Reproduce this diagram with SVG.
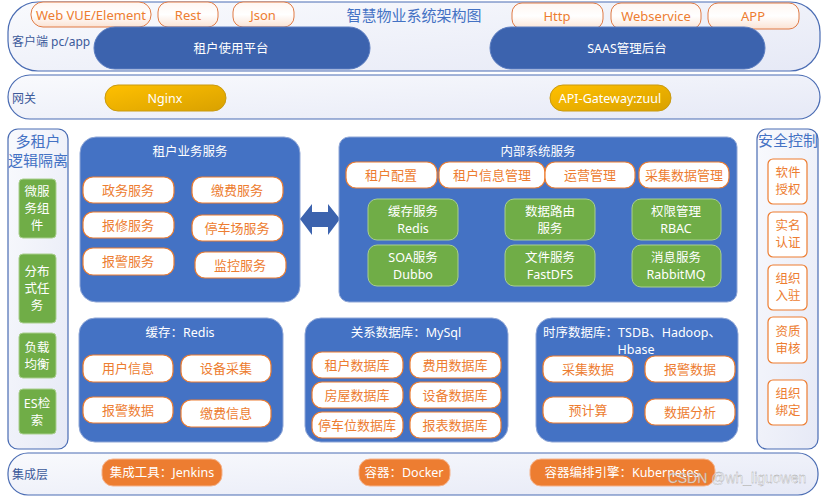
<svg xmlns="http://www.w3.org/2000/svg" width="826" height="496" viewBox="0 0 826 496">
<defs>
<linearGradient id="frameG" x1="0" y1="0" x2="1" y2="1">
<stop offset="0" stop-color="#f9fafd"/><stop offset="1" stop-color="#e6e9f6"/>
</linearGradient>
<linearGradient id="goldG" x1="0" y1="0" x2="1" y2="1">
<stop offset="0" stop-color="#ffc000"/><stop offset="1" stop-color="#d9a100"/>
</linearGradient>
<linearGradient id="topPillG" x1="0" y1="0" x2="0" y2="1">
<stop offset="0" stop-color="#fff6f1"/><stop offset="0.5" stop-color="#ffffff"/><stop offset="1" stop-color="#fbe3d4"/>
</linearGradient>
<style>
text{font-family:"Noto Sans","Noto Sans CJK SC",sans-serif;text-anchor:middle;dominant-baseline:central}
.frame{fill:url(#frameG);stroke:#4a6cb3;stroke-width:1.2}
.blueBox{fill:#4472c4;stroke:#8fa6d6;stroke-width:1}
.bluePill{fill:#3c63ae;stroke:#5a7cc0;stroke-width:1}
.wpill{fill:#ffffff;stroke:#ed7d31;stroke-width:1.2}
.tpill{fill:url(#topPillG);stroke:#e07b45;stroke-width:1}
.green{fill:#70ad47;stroke:#a9cf8e;stroke-width:1}
.gold{fill:url(#goldG);stroke:#c99a10;stroke-width:1}
.opill{fill:#ed7d31;stroke:#f5b28a;stroke-width:1}
.ot{fill:#ed7d31;font-size:13px}
.wt{fill:#ffffff;font-size:12.5px}
.bt{fill:#3c5a9a;font-size:12px;text-anchor:start}
.ht{fill:#4472c4;font-size:15px}
.st{fill:#ed7d31;font-size:12.5px}
</style>
</defs>

<g id="client-layer">
<rect class="frame" x="8" y="2" width="812" height="69" rx="30"/>
<text class="bt" x="12" y="41">客户端 pc/app</text>
<text class="ht" x="414" y="15">智慧物业系统架构图</text>
</g>
<g id="web"><rect class="tpill" x="31" y="2" width="120" height="25" rx="12"/><text class="ot" x="91" y="14.5" font-size="12">Web VUE/Element</text></g>
<g id="rest"><rect class="tpill" x="158" y="2" width="60" height="25" rx="10"/><text class="ot" x="188" y="14.5" font-size="12">Rest</text></g>
<g id="json"><rect class="tpill" x="233" y="2" width="61" height="25" rx="10"/><text class="ot" x="263" y="14.5" font-size="12">Json</text></g>
<g id="http"><rect class="tpill" x="512" y="3" width="91" height="26" rx="10"/><text class="ot" x="557" y="16" font-size="12">Http</text></g>
<g id="webservice"><rect class="tpill" x="611" y="3" width="90" height="26" rx="10"/><text class="ot" x="656" y="16" font-size="12">Webservice</text></g>
<g id="app"><rect class="tpill" x="708" y="3" width="91" height="26" rx="10"/><text class="ot" x="753" y="16" font-size="12">APP</text></g>
<g id="tenant-platform"><rect class="bluePill" x="94" y="27" width="276" height="42" rx="21"/><text class="wt" x="231" y="48">租户使用平台</text></g>
<g id="saas"><rect class="bluePill" x="490" y="27" width="275" height="42" rx="21"/><text class="wt" x="627" y="48">SAAS管理后台</text></g>

<g id="gateway-layer">
<rect class="frame" x="8" y="75" width="812" height="44" rx="22"/>
<text class="bt" x="12" y="98">网关</text>
</g>
<g id="nginx"><rect class="gold" x="105" y="85" width="121" height="26" rx="13"/><text class="wt" x="165" y="98" font-size="12">Nginx</text></g>
<g id="zuul"><rect class="gold" x="550" y="85" width="121" height="26" rx="13"/><text class="wt" x="610" y="98" font-size="12">API-Gateway:zuul</text></g>

<g id="multi-tenant">
<rect class="frame" x="8" y="129" width="60" height="320" rx="10"/>
<text class="ht" x="38" y="141">多租户</text>
<text class="ht" x="38" y="160">逻辑隔离</text>
<rect class="green" x="19" y="179" width="37" height="59" rx="4"/>
<text class="wt" x="37" y="191">微服</text><text class="wt" x="37" y="208">务组</text><text class="wt" x="37" y="225">件</text>
<rect class="green" x="19" y="254" width="37" height="69" rx="4"/>
<text class="wt" x="37" y="271">分布</text><text class="wt" x="37" y="288">式任</text><text class="wt" x="37" y="305">务</text>
<rect class="green" x="19" y="333" width="37" height="45" rx="4"/>
<text class="wt" x="37" y="347">负载</text><text class="wt" x="37" y="364">均衡</text>
<rect class="green" x="19" y="389" width="37" height="45" rx="4"/>
<text class="wt" x="37" y="403">ES检</text><text class="wt" x="37" y="420">索</text>
</g>

<g id="security">
<rect class="frame" x="757" y="129" width="61" height="320" rx="10"/>
<text class="ht" x="788" y="140">安全控制</text>
<rect class="wpill" x="768" y="159" width="39" height="45" rx="5"/>
<text class="st" x="788" y="172.5">软件</text><text class="st" x="788" y="189.5">授权</text>
<rect class="wpill" x="768" y="212" width="39" height="45" rx="5"/>
<text class="st" x="788" y="225.5">实名</text><text class="st" x="788" y="242.5">认证</text>
<rect class="wpill" x="768" y="265" width="39" height="45" rx="5"/>
<text class="st" x="788" y="278.5">组织</text><text class="st" x="788" y="295.5">入驻</text>
<rect class="wpill" x="768" y="317" width="39" height="46" rx="5"/>
<text class="st" x="788" y="331.5">资质</text><text class="st" x="788" y="348.5">审核</text>
<rect class="wpill" x="768" y="380" width="39" height="45" rx="5"/>
<text class="st" x="788" y="393.5">组织</text><text class="st" x="788" y="410.5">绑定</text>
</g>

<g id="tenant-services">
<rect class="blueBox" x="80" y="137" width="220" height="165" rx="16"/>
<text class="wt" x="190" y="151">租户业务服务</text>
<rect class="wpill" x="83" y="177" width="91" height="26" rx="10"/><text class="ot" x="128" y="190">政务服务</text>
<rect class="wpill" x="192" y="177" width="91" height="26" rx="10"/><text class="ot" x="237" y="190">缴费服务</text>
<rect class="wpill" x="83" y="212" width="91" height="26" rx="10"/><text class="ot" x="128" y="225">报修服务</text>
<rect class="wpill" x="192" y="215" width="91" height="26" rx="10"/><text class="ot" x="237" y="228">停车场服务</text>
<rect class="wpill" x="83" y="248" width="91" height="27" rx="10"/><text class="ot" x="128" y="261">报警服务</text>
<rect class="wpill" x="195" y="252" width="91" height="26" rx="10"/><text class="ot" x="240" y="265">监控服务</text>
</g>

<g id="connectors">
<path d="M300,219 L312,204 L312,212 L328,212 L328,204 L340,219 L328,235 L328,227 L312,227 L312,235 Z" fill="#3c63ae"/>
</g>

<g id="internal-services">
<rect class="blueBox" x="339" y="137" width="398" height="165" rx="10"/>
<text class="wt" x="538" y="151">内部系统服务</text>
<rect class="wpill" x="346" y="162" width="91" height="26" rx="10"/><text class="ot" x="391" y="175">租户配置</text>
<rect class="wpill" x="439" y="162" width="106" height="26" rx="10"/><text class="ot" x="492" y="175">租户信息管理</text>
<rect class="wpill" x="545" y="162" width="90" height="26" rx="10"/><text class="ot" x="590" y="175">运营管理</text>
<rect class="wpill" x="639" y="162" width="90" height="26" rx="10"/><text class="ot" x="684" y="175">采集数据管理</text>
<rect class="green" x="368" y="199" width="90" height="41" rx="9"/><text class="wt" x="413" y="211">缓存服务</text><text class="wt" x="413" y="228" font-size="11.5">Redis</text>
<rect class="green" x="368" y="245" width="90" height="41" rx="9"/><text class="wt" x="413" y="257">SOA服务</text><text class="wt" x="413" y="274" font-size="11.5">Dubbo</text>
<rect class="green" x="505" y="199" width="90" height="41" rx="9"/><text class="wt" x="550" y="211">数据路由</text><text class="wt" x="550" y="228">服务</text>
<rect class="green" x="505" y="245" width="90" height="41" rx="9"/><text class="wt" x="550" y="257">文件服务</text><text class="wt" x="550" y="274" font-size="11.5">FastDFS</text>
<rect class="green" x="632" y="199" width="89" height="41" rx="9"/><text class="wt" x="676" y="211">权限管理</text><text class="wt" x="676" y="228" font-size="11.5">RBAC</text>
<rect class="green" x="632" y="245" width="89" height="42" rx="9"/><text class="wt" x="676" y="257">消息服务</text><text class="wt" x="676" y="274" font-size="11.5">RabbitMQ</text>
</g>

<g id="cache-redis">
<rect class="blueBox" x="79" y="318" width="204" height="124" rx="16"/>
<text class="wt" x="180" y="332" font-size="12">缓存：Redis</text>
<rect class="wpill" x="83" y="355" width="90" height="27" rx="10"/><text class="ot" x="128" y="368">用户信息</text>
<rect class="wpill" x="181" y="355" width="90" height="27" rx="10"/><text class="ot" x="226" y="368">设备采集</text>
<rect class="wpill" x="83" y="397" width="90" height="26" rx="10"/><text class="ot" x="128" y="410">报警数据</text>
<rect class="wpill" x="181" y="400" width="90" height="27" rx="10"/><text class="ot" x="226" y="413">缴费信息</text>
</g>

<g id="mysql">
<rect class="blueBox" x="305" y="318" width="203" height="124" rx="16"/>
<text class="wt" x="406" y="332" font-size="12">关系数据库：MySql</text>
<rect class="wpill" x="312" y="352" width="91" height="26" rx="10"/><text class="ot" x="357" y="365">租户数据库</text>
<rect class="wpill" x="410" y="352" width="91" height="26" rx="10"/><text class="ot" x="455" y="365">费用数据库</text>
<rect class="wpill" x="312" y="382" width="91" height="26" rx="10"/><text class="ot" x="357" y="395">房屋数据库</text>
<rect class="wpill" x="410" y="382" width="91" height="26" rx="10"/><text class="ot" x="455" y="395">设备数据库</text>
<rect class="wpill" x="312" y="412" width="91" height="26" rx="10"/><text class="ot" x="357" y="425">停车位数据库</text>
<rect class="wpill" x="410" y="412" width="91" height="26" rx="10"/><text class="ot" x="455" y="425">报表数据库</text>
</g>

<g id="tsdb">
<rect class="blueBox" x="536" y="318" width="202" height="124" rx="16"/>
<text class="wt" x="632" y="332" font-size="12">时序数据库：TSDB、Hadoop、</text>
<text class="wt" x="636" y="349" font-size="12">Hbase</text>
<rect class="wpill" x="543" y="356" width="90" height="26" rx="10"/><text class="ot" x="588" y="369">采集数据</text>
<rect class="wpill" x="645" y="356" width="90" height="26" rx="10"/><text class="ot" x="690" y="369">报警数据</text>
<rect class="wpill" x="543" y="397" width="90" height="26" rx="10"/><text class="ot" x="588" y="410">预计算</text>
<rect class="wpill" x="645" y="399" width="90" height="26" rx="10"/><text class="ot" x="690" y="412">数据分析</text>
</g>

<g id="integration-layer">
<rect class="frame" x="8" y="453" width="810" height="42" rx="20"/>
<text class="bt" x="12" y="474">集成层</text>
</g>
<g id="jenkins"><rect class="opill" x="102" y="459" width="120" height="27" rx="11"/><text class="wt" x="162" y="472.5" font-size="12">集成工具：Jenkins</text></g>
<g id="docker"><rect class="opill" x="359" y="459" width="91" height="27" rx="11"/><text class="wt" x="404" y="472.5" font-size="12">容器：Docker</text></g>
<g id="k8s"><rect class="opill" x="530" y="459" width="185" height="27" rx="11"/><text class="wt" x="622" y="472.5" font-size="12">容器编排引擎：Kubernetes</text></g>
<text x="737" y="478" font-size="14" fill="#ffffff" fill-opacity="0.75" stroke="#9a9a9a" stroke-width="0.3" style="font-family:'Liberation Sans',sans-serif">CSDN @wh_liguowen</text>
</svg>
